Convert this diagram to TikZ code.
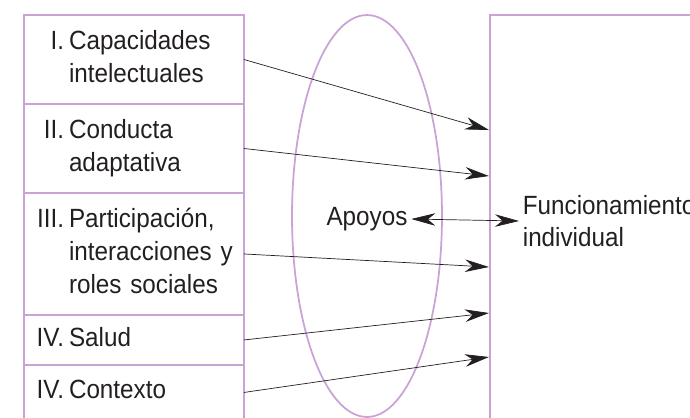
\documentclass[tikz,border=0pt]{standalone}
\usepackage{fontspec}
\setmainfont{Liberation Sans}[FakeStretch=0.92]
\usetikzlibrary{positioning, shapes.geometric, arrows.meta}

\definecolor{lila}{RGB}{200,163,212}
\definecolor{ink}{RGB}{35,31,32}

\newcommand{\dimtext}[2]{\makebox[0.7cm][r]{#1}\hspace{0.1cm}\begin{tabular}[t]{@{}l@{}}#2\end{tabular}}

\begin{document}
\begin{tikzpicture}[x=0.02cm, y=-0.02cm,
  every node/.style={font=\fontsize{15}{18.6}\selectfont, text=ink},
  dimbox/.style={draw=lila, line width=1pt, outer sep=0pt, minimum width=4.4cm, text width=4.2cm,
    inner xsep=0.1cm, inner ysep=0pt, align=left},
  tip/.tip={Stealth[length=0.48cm, width=0.25cm, inset=0.15cm]},
  pointer/.style={-tip, thin, ink}]

\useasboundingbox (0,0) rectangle (690,417);
\clip (0,0) rectangle (690,417);

% dimensiones
\node[dimbox, minimum height=1.78cm] (d1) at (134,59.5) {\dimtext{I.}{Capacidades\\intelectuales}};
\node[dimbox, minimum height=1.78cm, below=0pt of d1] (d2) {\dimtext{II.}{Conducta\\adaptativa}};
\node[dimbox, minimum height=2.44cm, below=0pt of d2] (d3) {\dimtext{III.}{Participación,\\interacciones y\\roles sociales}};
\node[dimbox, minimum height=1.0cm, below=0pt of d3] (d4) {\dimtext{IV.}{Salud}};
\node[dimbox, minimum height=1.1cm, below=0pt of d4] (d5) {\dimtext{IV.}{Contexto}};

% apoyos
\node[ellipse, draw=lila, line width=1pt, minimum width=3cm, minimum height=8.04cm] (ring) at (367,216) {};
\node[inner sep=2pt] (apoyos) at (367,219) {Apoyos};

% funcionamiento
\node[draw=lila, line width=1pt, minimum width=6cm, minimum height=9.3cm] (funcbox) at (640,247.5) {};
\node[anchor=west, align=left, inner sep=2pt] (func) at (519,221) {Funcionamiento\\individual};

\coordinate (t1) at (489,130);
\coordinate (t2) at (489,176);
\coordinate (t3) at (489,267);
\coordinate (t4) at (489,313);
\coordinate (t5) at (489,357);

\foreach \i in {1,...,5}
  \draw[pointer] (d\i.east) -- (t\i);

\draw[pointer, tip-tip] (apoyos.east) -- (func.west);

\end{tikzpicture}
\end{document}
